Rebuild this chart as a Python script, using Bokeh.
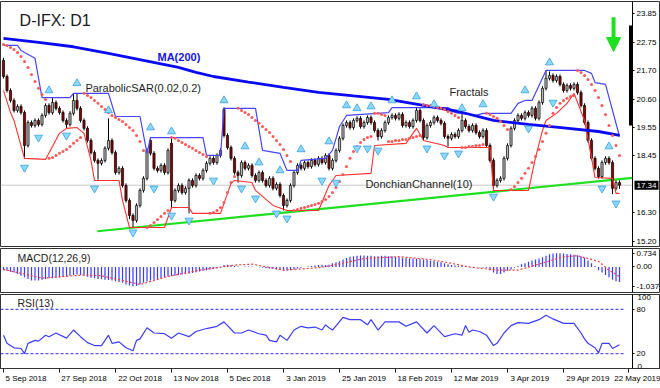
from bokeh.plotting import figure
from bokeh.layouts import column
from bokeh.models import (ColumnDataSource, FixedTicker, NumeralTickFormatter, LinearAxis,
                          Label, BoxAnnotation, Range1d, Arrow, NormalHead)
from bokeh.embed import file_html
from bokeh.resources import INLINE

# ---------------- data ----------------
open_ = [
22.08, 21.47, 20.94, 20.56, 20.18, 20.33, 20.10, 18.85, 19.72, 19.61,
19.80, 19.65, 19.99, 20.37, 20.10, 20.48, 20.26, 20.10, 19.80, 19.65,
20.07, 20.56, 20.26, 19.80, 19.50, 19.04, 18.58, 18.28, 18.17, 18.28,
18.74, 19.04, 18.58, 17.82, 17.98, 17.33, 16.76, 16.19, 16.00, 16.57,
17.14, 17.60, 19.04, 18.55, 17.98, 17.90, 18.09, 17.82, 18.93, 16.76,
17.14, 17.33, 17.06, 17.22, 17.52, 17.33, 17.71, 17.60, 17.90, 18.17,
18.36, 18.20, 18.47, 20.22, 19.23, 18.77, 18.36, 17.82, 17.71, 18.20,
17.98, 18.09, 17.71, 17.52, 17.82, 17.52, 17.33, 17.60, 17.22, 17.37,
16.95, 16.57, 16.76, 17.33, 17.82, 18.09, 17.98, 18.20, 18.05, 18.28,
18.13, 18.36, 18.20, 18.47, 17.98, 18.28, 18.66, 19.12, 19.61, 19.72,
19.53, 19.80, 19.88, 19.57, 19.72, 19.91, 19.72, 19.42, 19.19, 19.42,
19.72, 19.91, 19.99, 19.88, 20.03, 19.61, 19.72, 19.57, 19.80, 20.18,
19.80, 19.15, 19.61, 19.72, 19.91, 19.80, 19.69, 19.19, 19.12, 19.27,
19.19, 19.42, 19.80, 19.57, 19.42, 19.61, 19.34, 19.19, 19.42, 18.85,
18.28, 17.33, 17.52, 17.60, 18.36, 18.85, 19.50, 19.80, 19.99, 19.88,
20.10, 19.99, 20.26, 19.88, 20.48, 21.02, 21.40, 21.51, 21.32, 21.47,
21.17, 20.94, 21.13, 21.02, 21.17, 20.86, 20.37, 19.72, 19.04, 18.36,
17.98, 17.67, 18.20, 18.36, 18.20, 17.22, 17.44]
high = [
22.18, 21.55, 21.02, 20.64, 20.41, 20.41, 20.18, 19.80, 19.80, 19.88,
19.88, 20.07, 20.45, 20.45, 20.65, 20.56, 20.34, 20.18, 19.88, 20.15,
20.80, 20.83, 20.34, 19.88, 19.58, 19.12, 18.66, 18.36, 18.36, 18.82,
19.88, 19.12, 18.66, 18.06, 18.06, 17.41, 16.84, 16.27, 16.65, 17.22,
17.68, 18.75, 19.14, 18.63, 18.06, 18.17, 18.17, 18.74, 19.12, 17.22,
17.41, 17.41, 17.30, 17.60, 17.60, 17.79, 17.79, 17.98, 18.25, 18.44,
18.44, 18.55, 18.74, 20.30, 19.31, 18.85, 18.44, 17.90, 18.28, 18.28,
18.17, 18.17, 17.79, 17.90, 17.90, 17.60, 17.68, 17.68, 17.45, 17.45,
17.03, 16.84, 17.41, 17.90, 18.17, 18.17, 18.28, 18.28, 18.36, 18.36,
18.44, 18.44, 18.55, 18.55, 18.36, 18.74, 19.20, 19.69, 19.80, 19.80,
19.88, 19.96, 19.96, 19.80, 19.99, 19.99, 19.80, 19.50, 19.50, 19.80,
19.99, 20.07, 20.07, 20.11, 20.11, 19.80, 19.80, 19.88, 20.30, 20.26,
19.88, 19.69, 19.80, 19.99, 19.99, 19.88, 19.77, 19.27, 19.35, 19.35,
19.50, 20.05, 19.88, 19.65, 19.69, 19.69, 19.42, 19.50, 19.50, 18.93,
18.36, 17.60, 17.68, 18.44, 18.93, 19.58, 19.88, 20.07, 20.07, 20.18,
20.18, 20.34, 20.34, 20.56, 21.10, 21.70, 21.66, 21.59, 21.55, 21.55,
21.25, 21.21, 21.21, 21.25, 21.25, 20.94, 20.45, 19.80, 19.12, 18.44,
18.06, 18.28, 18.44, 18.44, 18.28, 17.52, 17.52]
low = [
21.39, 20.86, 20.48, 20.10, 20.10, 20.02, 18.36, 18.77, 19.53, 19.53,
19.57, 19.57, 19.91, 20.02, 20.02, 20.18, 20.02, 19.72, 19.50, 19.57,
19.99, 20.18, 19.72, 19.42, 18.96, 18.50, 18.20, 17.55, 18.09, 18.20,
18.66, 18.50, 17.74, 17.74, 17.25, 16.68, 16.05, 15.73, 15.92, 16.49,
17.06, 17.52, 18.47, 17.90, 17.82, 17.82, 17.74, 17.74, 16.49, 16.68,
17.06, 16.98, 16.98, 16.27, 17.25, 17.25, 17.52, 17.52, 17.82, 18.09,
18.12, 18.12, 18.39, 19.15, 18.69, 18.28, 17.74, 17.44, 17.63, 17.90,
17.90, 17.63, 17.44, 17.44, 17.44, 17.25, 17.25, 17.14, 17.14, 16.87,
16.38, 16.49, 16.68, 17.25, 17.74, 17.90, 17.90, 17.97, 17.97, 18.05,
18.05, 18.12, 18.12, 17.90, 17.90, 18.20, 18.58, 19.04, 19.53, 19.45,
19.45, 19.72, 19.49, 19.49, 19.64, 19.64, 19.34, 19.04, 19.11, 19.34,
19.64, 19.83, 19.80, 19.80, 19.53, 19.53, 19.49, 19.49, 19.72, 19.72,
19.04, 19.07, 19.53, 19.64, 19.72, 19.61, 19.11, 18.80, 19.04, 19.11,
19.11, 19.34, 19.49, 19.34, 19.34, 19.26, 19.11, 19.11, 18.77, 18.20,
17.14, 17.25, 17.44, 17.52, 18.28, 18.77, 19.42, 19.72, 19.80, 19.80,
19.91, 19.91, 19.80, 19.80, 20.40, 20.94, 21.32, 21.24, 21.24, 21.09,
20.86, 20.86, 20.94, 20.94, 20.78, 20.29, 19.64, 18.96, 18.28, 17.90,
17.59, 17.59, 18.12, 18.12, 17.00, 17.14, 17.20]
close = [
21.47, 20.94, 20.56, 20.18, 20.33, 20.10, 18.85, 19.72, 19.61, 19.80,
19.65, 19.99, 20.37, 20.10, 20.48, 20.26, 20.10, 19.80, 19.65, 20.07,
20.56, 20.26, 19.80, 19.50, 19.04, 18.58, 18.28, 18.17, 18.28, 18.74,
19.04, 18.58, 17.82, 17.98, 17.33, 16.76, 16.19, 16.00, 16.57, 17.14,
17.60, 18.66, 18.55, 17.98, 17.90, 18.09, 17.82, 18.66, 16.76, 17.14,
17.33, 17.06, 17.22, 17.52, 17.33, 17.71, 17.60, 17.90, 18.17, 18.36,
18.20, 18.47, 18.66, 19.23, 18.77, 18.36, 17.82, 17.71, 18.20, 17.98,
18.09, 17.71, 17.52, 17.82, 17.52, 17.33, 17.60, 17.22, 17.37, 16.95,
16.57, 16.76, 17.33, 17.82, 18.09, 17.98, 18.20, 18.05, 18.28, 18.13,
18.36, 18.20, 18.47, 17.98, 18.28, 18.66, 19.12, 19.61, 19.72, 19.53,
19.80, 19.88, 19.57, 19.72, 19.91, 19.72, 19.42, 19.19, 19.42, 19.72,
19.91, 19.99, 19.88, 20.03, 19.61, 19.72, 19.57, 19.80, 20.18, 19.80,
19.15, 19.61, 19.72, 19.91, 19.80, 19.69, 19.19, 19.12, 19.27, 19.19,
19.42, 19.80, 19.57, 19.42, 19.61, 19.34, 19.19, 19.42, 18.85, 18.28,
17.33, 17.52, 17.60, 18.36, 18.85, 19.50, 19.80, 19.99, 19.88, 20.10,
19.99, 20.26, 19.88, 20.48, 21.02, 21.40, 21.51, 21.32, 21.47, 21.17,
20.94, 21.13, 21.02, 21.17, 20.86, 20.37, 19.72, 19.04, 18.36, 17.98,
17.67, 18.20, 18.36, 18.20, 17.22, 17.44, 17.34]

ma200_x = [0, 10, 20, 30, 40, 50, 55, 60, 70, 80, 90, 100, 110, 120, 130, 140, 150, 160, 170, 176]
ma200_y = [22.92, 22.77, 22.60, 22.35, 22.08, 21.82, 21.63, 21.47, 21.26, 21.06, 20.87, 20.73,
           20.60, 20.37, 20.14, 19.80, 19.65, 19.52, 19.38, 19.23]

donch_up_x = [0, 4, 5, 9, 11, 19, 20, 30, 32, 39, 41, 42, 57, 58, 62, 63, 72, 74, 79, 81, 84, 85, 92,
              94, 96, 98, 110, 111, 127, 129, 135, 137, 145, 147, 149, 151, 153, 155, 166, 168, 169, 172, 176]
donch_up_y = [22.65, 22.65, 22.46, 22.16, 20.67, 20.67, 20.83, 20.83, 19.95, 19.95, 18.55, 19.15, 19.15,
              18.47, 18.47, 20.26, 20.26, 18.66, 18.55, 17.90, 17.90, 18.28, 18.36, 18.66, 19.57, 19.99,
              20.10, 20.29, 20.29, 20.10, 19.99, 20.07, 20.07, 20.45, 20.56, 20.56, 21.13, 21.70, 21.70,
              21.59, 21.24, 21.17, 19.19]
donch_lo_x = [0, 2, 3, 6, 12, 16, 18, 21, 23, 25, 26, 33, 34, 36, 46, 48, 53, 54, 62, 65, 66, 71, 72, 77,
              81, 90, 93, 95, 105, 106, 115, 118, 120, 126, 127, 139, 140, 150, 152, 154, 155, 158, 161,
              163, 166, 168, 169, 174, 175, 176]
donch_lo_y = [20.94, 20.10, 19.80, 18.36, 18.32, 19.31, 19.50, 19.53, 19.31, 18.28, 17.52, 17.52, 16.76,
              15.73, 15.73, 16.49, 16.49, 16.27, 16.27, 17.41, 17.52, 17.44, 17.14, 16.57, 16.38, 16.38,
              17.33, 17.71, 17.79, 18.85, 18.93, 19.50, 19.04, 18.85, 18.77, 18.77, 17.14, 17.14, 18.39,
              19.42, 19.80, 20.07, 20.45, 20.83, 19.80, 18.39, 17.63, 17.60, 17.03, 17.03]

sar = [
22.69, 22.65, 22.57, 22.50, 22.38, 22.23, 22.04, 21.81, 21.55, 21.28, 21.02, 20.79, 20.60,
18.36, 18.39, 18.47, 18.55, 18.62, 18.70, 18.81, 18.93, 19.04, 19.15,
20.83, 20.75, 20.67, 20.56, 20.45, 20.33, 20.22, 20.10, 19.99, 19.91, 19.84, 19.76, 19.65, 19.53,
19.42, 19.23, 19.00, 18.66,
15.73, 15.81, 15.92, 16.04, 16.15, 16.27, 16.38,
19.15, 19.12, 19.04, 18.96, 18.89, 18.81, 18.74, 18.66, 18.58, 18.51, 18.43,
16.27, 16.30, 16.38, 16.49, 16.68, 17.06, 17.44, 17.67,
20.26, 20.18, 20.10, 20.03, 19.91, 19.80, 19.69, 19.57, 19.46, 19.34, 19.19, 19.04, 18.89, 18.70,
18.47, 18.24,
16.38, 16.42, 16.46, 16.49, 16.53, 16.57, 16.61, 16.65, 16.72, 16.80, 16.91, 17.06, 17.25, 17.48,
17.75, 18.05, 18.36, 18.62, 18.81, 18.96, 19.08, 19.15, 19.19,
20.07, 20.07, 20.03, 19.99,
19.00, 19.00, 19.04, 19.04, 19.08, 19.08, 19.12, 19.15, 19.19, 19.23,
20.41, 20.37, 20.37, 20.33, 20.29, 20.26, 20.22, 20.14, 20.07, 19.99, 19.91,
18.77, 18.77, 18.81, 18.81, 18.85, 18.85, 18.89,
20.07, 20.03, 19.95, 19.88, 19.76, 19.61, 19.46,
17.18, 17.29, 17.44, 17.60, 17.79, 17.98, 18.20, 18.43, 18.70, 19.00, 19.31, 19.61, 20.07, 20.29,
20.45, 20.56, 20.64, 20.71, 20.75,
21.70, 21.62, 21.51, 21.36, 21.17, 20.94, 20.67, 20.37, 20.03, 19.61, 19.23, 18.85, 18.47]

fractal_up_x = [13, 21, 30, 42, 48, 63, 69, 73, 79, 85, 93, 98, 101, 105, 111, 118, 123, 131, 137, 149, 156, 173]
fractal_up_y = [20.94, 21.21, 20.18, 19.53, 19.38, 20.56, 18.81, 18.20, 17.90, 18.70, 19.00, 20.37, 20.26,
                20.33, 20.56, 20.71, 20.41, 20.26, 20.41, 20.94, 22.00, 18.81]
fractal_dn_x = [6, 10, 18, 26, 37, 43, 48, 53, 60, 68, 72, 78, 81, 91, 95, 101, 104, 107, 121, 126, 130,
                140, 150, 157, 171, 175]
fractal_dn_y = [18.01, 19.15, 19.23, 17.22, 15.55, 17.22, 16.19, 16.00, 17.52, 17.22, 16.84, 16.27, 16.08,
                17.52, 17.44, 18.74, 18.74, 18.66, 18.74, 18.47, 18.55, 16.91, 19.50, 20.48, 17.22, 16.65]

trend_x = [26.8, 179.7]
trend_y = [15.59, 17.62]

macd_hist = [
-0.17, -0.21, -0.26, -0.30,
-0.38, -0.47, -0.55, -0.64,
-0.72, -0.72, -0.72, -0.68,
-0.64, -0.61, -0.60, -0.58, -0.56, -0.54, -0.51,
-0.47, -0.43, -0.41, -0.43,
-0.47, -0.53, -0.58, -0.61, -0.64,
-0.66, -0.68, -0.70, -0.72, -0.77, -0.81, -0.85,
-0.94, -1.00, -1.037, -1.02,
-0.94, -0.85, -0.78,
-0.72, -0.68, -0.64, -0.60, -0.55, -0.51,
-0.49, -0.47, -0.43, -0.41, -0.38,
-0.36, -0.32, -0.28, -0.24, -0.20, -0.17,
-0.13, -0.10, -0.07, -0.04,
0.10, 0.12, 0.10,
0.05, 0.02, 0.00, 0.02, 0.03, 0.02, 0.00, -0.02, -0.04, -0.07,
-0.085, -0.10, -0.13, -0.15, -0.19, -0.19, -0.17, -0.13, -0.085,
-0.04, 0.00, 0.03, 0.05, 0.08, 0.10, 0.12, 0.10, 0.12,
0.20, 0.25, 0.30,
0.40, 0.48, 0.55, 0.58, 0.60,
0.62, 0.62, 0.60, 0.60, 0.58, 0.58, 0.60, 0.60, 0.58, 0.57, 0.55,
0.52, 0.50, 0.48, 0.46, 0.45, 0.45, 0.42, 0.40, 0.38,
0.35, 0.32, 0.28, 0.25, 0.20, 0.15,
0.10, 0.08, 0.05, 0.05, 0.03, 0.02, 0.00, 0.00, -0.02, -0.03, -0.04,
-0.17, -0.30, -0.38, -0.38,
-0.30, -0.21, -0.13, -0.04,
0.05, 0.15, 0.20, 0.28, 0.35, 0.40,
0.45, 0.52, 0.60, 0.68, 0.72, 0.734, 0.73, 0.72,
0.70, 0.68, 0.66, 0.63, 0.58, 0.50,
0.35, 0.20, 0.05,
-0.17, -0.30, -0.43,
-0.55, -0.68, -0.77, -0.81]
signal_x = [0, 5, 11, 23, 28, 39, 47, 56, 66, 71, 80, 90, 93, 103, 113, 122, 128, 133, 141, 147, 153, 160,
            164, 170, 173, 176]
signal_y = [-0.13, -0.34, -0.60, -0.43, -0.47, -0.94, -0.51, -0.17, 0.10, 0.15, -0.17, -0.04, 0.05, 0.45,
            0.55, 0.40, 0.20, 0.0, -0.17, -0.17, 0.15, 0.55, 0.60, 0.30, -0.17, -0.51]

rsi_x = [0, 1, 3, 5, 6, 7, 9, 10, 12, 13, 15, 18, 20, 22, 24, 26, 28, 30, 31, 33, 35, 37, 38, 39, 41, 43,
         46, 48, 50, 53, 55, 58, 61, 63, 66, 68, 70, 73, 75, 76, 78, 79, 81, 83, 85, 87, 89, 91, 92, 93,
         94, 97, 99, 102, 104, 105, 107, 109, 113, 115, 118, 121, 123, 126, 129, 131, 132, 133, 134, 136,
         138, 140, 141, 143, 145, 147, 150, 153, 155, 157, 160, 163, 165, 166, 167, 169, 170, 171, 173,
         174, 176]
rsi_y = [45, 34, 28, 27, 20, 34, 38, 37, 45, 43, 48, 41, 52, 43, 35, 31, 31, 45, 34, 36, 28, 24, 38, 40,
         55, 48, 47, 41, 48, 43, 50, 54, 57, 63, 48, 48, 52, 47, 45, 38, 36, 45, 38, 52, 57, 55, 56, 52,
         59, 55, 52, 69, 66, 66, 59, 66, 52, 63, 63, 57, 63, 48, 58, 43, 47, 45, 58, 49, 52, 50, 45, 31,
         34, 48, 58, 62, 61, 66, 72, 67, 61, 61, 48, 40, 34, 28, 21, 34, 34, 27, 32]

price_ticks = [15.20, 16.30, 18.45, 19.55, 20.60, 21.70, 22.75, 23.85]
last_price = 17.34
macd_ticks = [-1.037, 0.0, 0.734]
macd_tick_labels = ["-1.037", "0.00", "0.734"]
rsi_levels = [20, 80]
date_ticks = [0, 16, 32, 48, 64, 80, 96, 112, 128, 144, 160, 178.5]
date_labels = ["5 Sep 2018", "27 Sep 2018", "22 Oct 2018", "13 Nov 2018", "5 Dec 2018", "3 Jan 2019",
               "25 Jan 2019", "18 Feb 2019", "12 Mar 2019", "3 Apr 2019", "29 Apr 2019", "22 May 2019"]

# ---------------- styling / layout ----------------
FONT = "Liberation Sans"
FRAME_W = 660
X_START = -0.857
X_AXIS_AT = 179.71         # where the price scale sits
X_END = 187.71             # right edge of the page
PX_PER_UNIT = FRAME_W / (X_END - X_START)
BULL = "#b4b4b4"
BEAR = "#8b0000"
BLUE_IND = "#3c3cff"
RED_IND = "#ff3a3a"
GREEN = "#1ee01e"

x_rng = Range1d(X_START, X_END)


def make_fig(frame_h, y0, y1, top, bottom, with_x=False):
    p = figure(frame_width=FRAME_W, frame_height=frame_h, x_range=x_rng,
               y_range=Range1d(y0, y1), output_backend="svg", toolbar_location=None,
               y_axis_location="right", x_axis_location=("below" if with_x else None),
               min_border_left=0, min_border_right=0, min_border_top=top,
               min_border_bottom=bottom, background_fill_color="white",
               border_fill_color="white")
    p.grid.visible = False
    p.outline_line_color = "#333333"
    p.outline_line_width = 1
    ax = p.yaxis[0]
    ax.fixed_location = X_AXIS_AT
    ax.axis_line_color = "black"
    ax.major_tick_out = 2
    ax.major_tick_in = 0
    ax.minor_tick_out = 0
    ax.minor_tick_in = 0
    ax.major_label_standoff = 2
    ax.major_label_text_font = FONT
    ax.major_label_text_font_size = "8px"
    ax.major_label_text_color = "black"
    return p


def add_text(p, x, y, text, size, color="#1e1e1e", bold=False, baseline="middle", align="left",
             x_offset=0, **kw):
    p.add_layout(Label(x=x, y=y, text=text, text_font=FONT, text_font_size=size,
                       text_color=color, text_font_style=("bold" if bold else "normal"),
                       text_baseline=baseline, text_align=align, x_offset=x_offset, **kw))


# ---------------- main panel ----------------
pm = make_fig(245, 15.01, 24.32, 1, 1)
pm.yaxis.ticker = FixedTicker(ticks=price_ticks)
pm.yaxis.formatter = NumeralTickFormatter(format="0.00")

pm.line([X_START, X_AXIS_AT], [last_price, last_price], line_color="#c8c8c8", line_width=1)

idx = list(range(len(close)))
src = ColumnDataSource(dict(
    x=idx, o=open_, h=high, l=low, c=close,
    top=[max(a, b) for a, b in zip(open_, close)],
    bot=[min(a, b) for a, b in zip(open_, close)],
    col=[BULL if c >= o else BEAR for o, c in zip(open_, close)]))

pm.line(trend_x, trend_y, line_color=GREEN, line_width=2.2)
pm.segment(x0="x", y0="l", x1="x", y1="h", source=src, line_color="black", line_width=1)
pm.vbar(x="x", top="top", bottom="bot", width=0.62, fill_color="col", line_color="black",
        line_width=0.7, source=src)
pm.line(donch_up_x, donch_up_y, line_color="#4646ff", line_width=1.2)
pm.line(donch_lo_x, donch_lo_y, line_color="#ff3030", line_width=1.1)
pm.line(ma200_x, ma200_y, line_color="#0a0af0", line_width=2.8)
pm.scatter(idx, sar, marker="circle", size=3, fill_color="#ff5858", line_color=None)
pm.scatter(fractal_up_x, fractal_up_y, marker="triangle", size=8, fill_color="#8cd9ff",
           line_color="#3a9ee0", line_width=0.8)
pm.scatter(fractal_dn_x, fractal_dn_y, marker="inverted_triangle", size=8, fill_color="#8cd9ff",
           line_color="#3a9ee0", line_width=0.8)

pm.add_layout(BoxAnnotation(left=X_AXIS_AT - 1.0, right=X_AXIS_AT, bottom=19.61, top=23.41,
                            fill_color="black", fill_alpha=1.0, line_color=None))
pm.add_layout(Arrow(end=NormalHead(size=14, fill_color=GREEN, line_color=GREEN),
                    x_start=174.3, y_start=23.72, x_end=174.3, y_end=22.42,
                    line_color=GREEN, line_width=4))

add_text(pm, 4.6, 23.60, "D-IFX: D1", "16px", color="#1a1a1a")
add_text(pm, 44, 22.23, "MA(200)", "11px", color="#1515e6", bold=True)
add_text(pm, 23.4, 21.02, "ParabolicSAR(0.02,0.2)", "11px")
add_text(pm, 127.4, 20.90, "Fractals", "11px")
add_text(pm, 103.4, 17.37, "DonchianChannel(10)", "11px")
pm.add_layout(Label(x=X_AXIS_AT, y=last_price, text="%.2f" % last_price, text_font=FONT,
                    text_font_size="8px", text_color="white", text_baseline="middle",
                    text_align="left", x_offset=2, background_fill_color="black",
                    background_fill_alpha=1.0, padding=2))

# ---------------- MACD panel ----------------
pmacd = make_fig(44, -1.37, 0.99, 1, 1)
pmacd.yaxis.ticker = FixedTicker(ticks=macd_ticks)
pmacd.yaxis.major_label_overrides = {t: s for t, s in zip(macd_ticks, macd_tick_labels)}
pmacd.vbar(x=idx, top=macd_hist, bottom=0, width=0.35, fill_color=BLUE_IND, line_color=None)
pmacd.line(signal_x, signal_y, line_color=RED_IND, line_width=1.2, line_dash="2 2")
add_text(pmacd, 4, 0.47, "MACD(12,26,9)", "10.5px")

# ---------------- RSI panel ----------------
prsi = make_fig(74, 0, 100, 1, 19, with_x=True)
prsi.yaxis.ticker = FixedTicker(ticks=rsi_levels)
for lv in rsi_levels:
    prsi.line([X_START, len(close) + 0.5], [lv, lv], line_color="#2a2aff", line_width=1,
              line_dash="3 2")
prsi.line(rsi_x, rsi_y, line_color=BLUE_IND, line_width=1.2)
add_text(prsi, 4, 89, "RSI(13)", "10.5px")
add_text(prsi, X_AXIS_AT, 100, "100", "8px", color="black", baseline="top", x_offset=5)
add_text(prsi, X_AXIS_AT, 0, "0", "8px", color="black", baseline="bottom", x_offset=5)

# first (inner) axis: only the small date tick marks at each labelled bar
xt = prsi.xaxis[0]
xt.ticker = FixedTicker(ticks=date_ticks)
xt.major_label_overrides = {t: " " for t in date_ticks}
xt.major_label_text_font_size = "1px"
xt.major_label_standoff = 0
xt.major_tick_out = 4
xt.major_tick_in = 0
xt.minor_tick_out = 0
xt.minor_tick_in = 0
xt.major_tick_line_color = "#222222"
xt.axis_line_color = "#333333"

# second axis: the date labels, each starting at its bar (shift centred label by half width)
label_pos = [t + (2 + 2.05 * len(s)) / PX_PER_UNIT for t, s in zip(date_ticks, date_labels)]
xa = LinearAxis(ticker=FixedTicker(ticks=label_pos),
                major_label_overrides={t: s for t, s in zip(label_pos, date_labels)},
                major_label_text_font=FONT, major_label_text_font_size="8px",
                major_label_text_color="black", major_label_standoff=-3,
                major_tick_out=0, major_tick_in=0, minor_tick_out=0, minor_tick_in=0,
                axis_line_color=None)
prsi.add_layout(xa, "below")

layout = column(pm, pmacd, prsi, spacing=0)

open("out.html", "w").write(file_html(layout, INLINE))
